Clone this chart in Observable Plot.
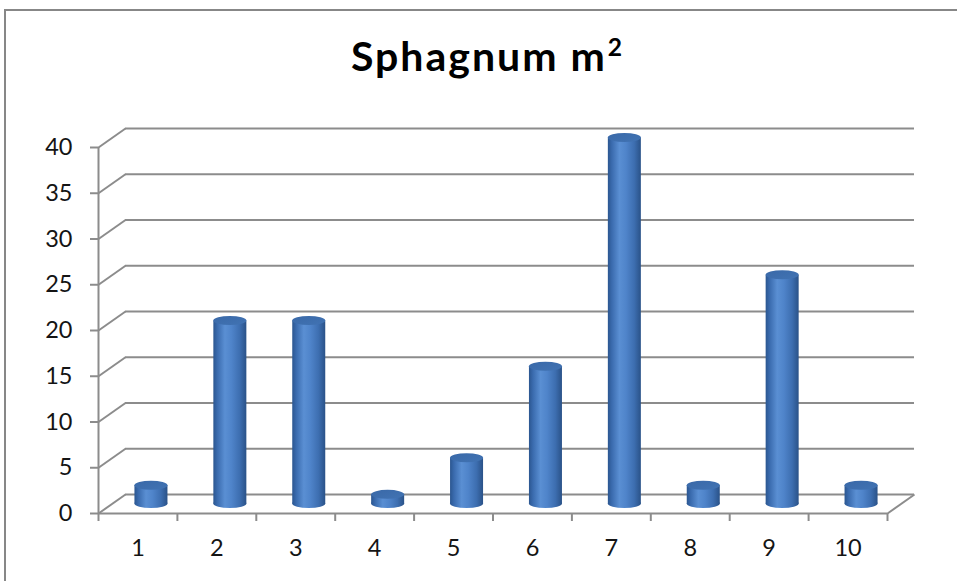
<!DOCTYPE html>
<html>
<head>
<meta charset="utf-8">
<script src="https://cdn.jsdelivr.net/npm/d3@7"></script>
<script src="https://cdn.jsdelivr.net/npm/@observablehq/plot@0.6"></script>
<style>
  html, body { margin: 0; padding: 0; background: #fff; }
  #wrap { position: relative; width: 957px; height: 581px; overflow: hidden; background: #fff; }
  #frame { position: absolute; left: 4px; top: 9px; width: 1000px; height: 700px;
           border-left: 2px solid #878787; border-top: 2px solid #878787; }
  #title { position: absolute; left: 8px; top: 35px; width: 957px; text-align: center;
           line-height: 41px; letter-spacing: 2px;
           font-family: Lato, "Open Sans", sans-serif; font-weight: 700; font-size: 41px; color: #000; }
  #title sup { font-size: 60%; vertical-align: baseline; position: relative; top: -0.62em; letter-spacing: 0; margin-left: 1px; }
  #chart { position: absolute; left: 0; top: 110px; }
</style>
</head>
<body>
<div id="wrap">
  <div id="frame"></div>
  <div id="title">Sphagnum m<sup>2</sup></div>
  <div id="chart"></div>
</div>
<script>
// ---- data ----
const categories = ["1", "2", "3", "4", "5", "6", "7", "8", "9", "10"];
const values = [2, 20, 20, 1, 5, 15, 40, 2, 25, 2];
const yTicks = [0, 5, 10, 15, 20, 25, 30, 35, 40];

const data = categories.map((c, i) => ({label: c, idx: i + 1, value: values[i]}));

// ---- layout ----
const W = 957, H = 471;
const mL = 98, mR = 70, mT = 37, mB = 68;
const pxPerX = (W - mL - mR) / categories.length;
const pxPerY = (H - mT - mB) / 40;
// 3-D depth of the back wall (pixels), expressed in data units for links
const depthX = 27, depthY = -19;
const dXu = depthX / pxPerX, dYu = -depthY / pxPerY;
// cylinders sit half way in depth
const cdx = 13.5, cdy = -9.5;
const cylW = 33;
const inset = (pxPerX - cylW) / 2;
const gridColor = "#8c8c8c";
const labelFont = "Lato, 'Open Sans', sans-serif";

const plot = Plot.plot({
  width: W, height: H,
  marginLeft: mL, marginRight: mR, marginTop: mT, marginBottom: mB,
  x: {type: "linear", domain: [0, categories.length], axis: null},
  y: {domain: [0, 40], axis: null},
  style: {background: "transparent", overflow: "visible"},
  marks: [
    // back wall gridlines
    Plot.ruleY(yTicks, {x1: dXu, x2: categories.length + dXu, dy: depthY, stroke: gridColor, strokeWidth: 2}),
    // side wall diagonals
    Plot.link(yTicks, {x1: 0, y1: d => d, x2: dXu, y2: d => d + dYu, stroke: gridColor, strokeWidth: 2}),
    // floor right edge
    Plot.link([0], {x1: categories.length, y1: 0, x2: categories.length + dXu, y2: dYu, stroke: gridColor, strokeWidth: 2}),
    // front axis lines
    Plot.ruleY([0], {x1: 0, x2: categories.length, stroke: gridColor, strokeWidth: 2}),
    Plot.ruleX([0], {y1: 0, y2: 40, stroke: gridColor, strokeWidth: 2}),
    // y ticks
    Plot.ruleY(yTicks, {x1: 0, x2: -8 / pxPerX, stroke: gridColor, strokeWidth: 2}),
    // x ticks
    Plot.ruleX(d3.range(0, categories.length + 1), {y1: 0, y2: -8 / pxPerY, stroke: gridColor, strokeWidth: 2}),
    // y labels
    Plot.text(yTicks, {x: 0, y: d => d, dx: -26, textAnchor: "end", text: d => String(d),
      fontSize: 23.5, fill: "#141414", fontFamily: labelFont}),
    // x labels
    Plot.text(data, {x: d => d.idx - 0.5, y: 0, dy: 35, text: "label",
      fontSize: 23.5, fill: "#141414", fontFamily: labelFont}),
    // cylinder bottoms
    Plot.rect(data, {x1: d => d.idx - 1, x2: "idx", y1: 0, y2: 0,
      insetLeft: inset, insetRight: inset, insetTop: -4.5, insetBottom: -4.5,
      rx: cylW / 2, ry: 4.5, dx: cdx, dy: cdy, fill: "url(#cylGrad)"}),
    // cylinder bodies
    Plot.rect(data, {x1: d => d.idx - 1, x2: "idx", y1: 0, y2: "value",
      insetLeft: inset, insetRight: inset, dx: cdx, dy: cdy, fill: "url(#cylGrad)"}),
    // cylinder tops
    Plot.rect(data, {x1: d => d.idx - 1, x2: "idx", y1: "value", y2: "value",
      insetLeft: inset, insetRight: inset, insetTop: -4.5, insetBottom: -4.5,
      rx: cylW / 2, ry: 4.5, dx: cdx, dy: cdy, fill: "url(#topGrad)"})
  ]
});

// gradients for cylinder shading
const defs = d3.select(plot).insert("defs", ":first-child");
const g = defs.append("linearGradient").attr("id", "cylGrad")
  .attr("x1", "0").attr("x2", "1").attr("y1", "0").attr("y2", "0");
[[0, "#2b5690"], [0.12, "#3a6bae"], [0.35, "#5a8fd3"], [0.55, "#4f84ca"], [0.8, "#3d6eb0"], [1, "#2a5288"]]
  .forEach(([o, c]) => g.append("stop").attr("offset", o).attr("stop-color", c));
const t = defs.append("linearGradient").attr("id", "topGrad")
  .attr("x1", "0").attr("x2", "1").attr("y1", "0").attr("y2", "1");
[[0, "#3a69a8"], [1, "#4173b3"]]
  .forEach(([o, c]) => t.append("stop").attr("offset", o).attr("stop-color", c));

document.getElementById("chart").appendChild(plot);
</script>
</body>
</html>
